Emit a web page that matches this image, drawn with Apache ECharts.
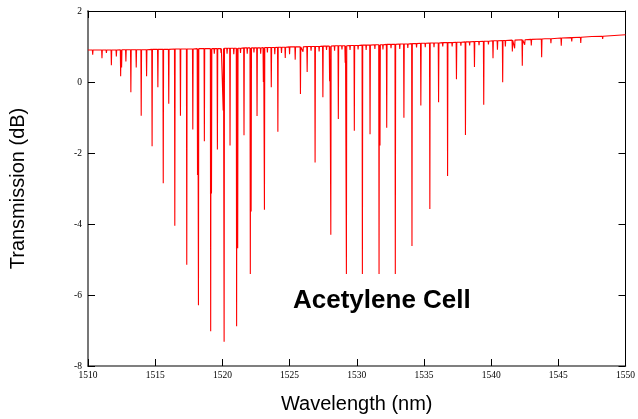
<!DOCTYPE html>
<html><head><meta charset="utf-8">
<script src="https://cdn.jsdelivr.net/npm/echarts/dist/echarts.min.js"></script>
<style>html,body{margin:0;padding:0;background:#fff}#c{width:638px;height:419px}</style>
</head><body><div id="c"></div>
<script>
// Absorption lines: wavelength (nm), minimum transmission (dB), local baseline (dB)
const lineWl = [1510.35,1510.70,1511.04,1511.37,1511.74,1512.11,1512.43,1512.50,1512.82,1513.19,1513.59,1513.96,1514.36,1514.77,1515.20,1515.60,1516.01,1516.46,1516.88,1517.35,1517.80,1518.15,1518.22,1518.66,1519.13,1519.19,1519.63,1520.06,1520.13,1520.57,1521.06,1521.14,1521.61,1522.08,1522.14,1522.58,1523.05,1523.13,1523.64,1524.13,1524.68,1525.00,1525.42,1525.81,1526.31,1526.90,1527.48,1527.98,1528.07,1528.63,1529.14,1529.23,1529.82,1530.42,1530.99,1531.66,1531.73,1532.23,1532.87,1533.51,1534.11,1534.77,1535.44,1536.09,1536.76,1537.42,1538.09,1538.76,1539.45,1540.14,1540.47,1540.86,1541.06,1541.58,1541.75,1542.32,1542.50,1542.99,1543.76,1544.45,1545.22,1546.00,1546.67,1548.30];
const lineMin = [0.77,0.86,0.67,0.82,0.47,0.72,0.16,0.41,0.58,-0.29,0.41,-0.95,0.16,-1.81,-0.15,-2.85,-0.61,-4.05,-0.95,-5.15,-1.34,-2.62,-6.29,-1.67,-7.02,-3.14,-1.90,-0.80,-7.32,-1.79,-6.88,-4.68,-1.50,-5.41,-3.65,-0.96,0.00,-3.60,-0.15,-1.40,0.68,0.78,0.63,-0.34,0.28,-2.27,-0.43,0.02,-4.30,-1.04,0.54,-5.41,-1.37,-5.41,-1.47,-5.41,-1.79,-1.29,-5.41,-1.01,-4.62,-0.66,-3.58,-0.57,-2.65,0.08,-1.49,0.42,-0.64,0.67,0.91,-0.01,1.00,0.86,0.95,0.46,1.05,1.03,0.70,1.09,1.02,1.14,1.10,1.21];
const lineTop = [0.90,0.90,0.90,0.90,0.90,0.90,0.91,0.91,0.91,0.91,0.91,0.91,0.91,0.92,0.92,0.92,0.92,0.93,0.93,0.93,0.93,0.94,0.94,0.94,0.94,0.94,0.94,0.95,0.95,0.95,0.95,0.95,0.96,0.96,0.96,0.96,0.97,0.97,0.97,0.98,0.98,0.99,0.99,0.99,1.00,1.00,1.01,1.01,1.01,1.02,1.02,1.02,1.03,1.04,1.04,1.05,1.05,1.06,1.06,1.07,1.08,1.09,1.10,1.10,1.11,1.12,1.13,1.14,1.15,1.16,1.16,1.17,1.17,1.18,1.18,1.19,1.19,1.20,1.21,1.22,1.24,1.25,1.26,1.29];
// Weak (hot-band) lines riding on the baseline
const weakWl  = [1519.40,1519.90,1520.35,1520.85,1521.35,1521.85,1522.35,1522.85,1523.35,1523.90,1524.40,1526.00,1526.60,1527.20,1527.75,1528.35,1528.90,1529.50,1530.10,1530.70,1531.35,1531.95,1532.55,1533.20,1533.80,1534.45,1535.10,1535.75,1536.40,1537.10,1537.75,1538.40,1539.10,1539.80];
const weakMin = [0.80,0.82,0.80,0.78,0.82,0.80,0.83,0.80,0.83,0.78,0.82,0.85,0.88,0.86,0.90,0.88,0.92,0.90,0.92,0.90,0.93,0.92,0.95,0.93,0.96,0.97,0.98,0.98,1.00,1.00,1.02,1.03,1.04,1.06];
const weakTop = [0.94,0.94,0.95,0.95,0.95,0.96,0.96,0.96,0.97,0.97,0.98,0.99,1.00,1.00,1.01,1.02,1.02,1.03,1.03,1.04,1.05,1.05,1.06,1.07,1.07,1.08,1.09,1.10,1.11,1.11,1.12,1.13,1.14,1.15];
// Baseline reference points (nm, dB)
const baseWl = [1510, 1544, 1547.5, 1550];
const baseVal = [0.90, 1.22, 1.28, 1.33];
// Axis ranges / ticks
const xMin = 1510, xMax = 1550, xStep = 5;
const yMin = -8, yMax = 2, yStep = 2;

const pts = [];
baseWl.forEach((w, i) => pts.push([w, baseVal[i]]));
const hw = 0.025;
function addDips(wl, mn, tp) {
  wl.forEach((w, i) => {
    pts.push([w - hw, tp[i]]);
    pts.push([w, mn[i]]);
    pts.push([w + hw, tp[i]]);
  });
}
addDips(lineWl, lineMin, lineTop);
addDips(weakWl, weakMin, weakTop);
pts.sort((a, b) => a[0] - b[0]);

const serif = '"Liberation Serif", "Times New Roman", serif';
const sans = '"Liberation Sans", Arial, sans-serif';
const chart = echarts.init(document.getElementById('c'), null, {renderer: 'canvas'});
chart.setOption({
  animation: false,
  backgroundColor: '#fff',
  grid: {left: 87, right: 12, top: 11, bottom: 52},
  xAxis: [{
    type: 'value', min: xMin, max: xMax, interval: xStep, position: 'bottom',
    axisLine: {show: true, onZero: false, lineStyle: {color: '#555', width: 1.5}},
    axisTick: {show: true, inside: true, length: 7, lineStyle: {color: '#000'}},
    axisLabel: {color: '#000', fontFamily: serif, fontSize: 9.5, margin: 4, formatter: v => String(v)},
    splitLine: {show: false},
    name: 'Wavelength (nm)', nameLocation: 'middle', nameGap: 28,
    nameTextStyle: {color: '#000', fontFamily: sans, fontSize: 20}
  }, {
    type: 'value', min: xMin, max: xMax, interval: xStep, position: 'top',
    axisLine: {show: true, onZero: false, lineStyle: {color: '#000', width: 1}},
    axisTick: {show: true, inside: true, length: 7, lineStyle: {color: '#000'}},
    axisLabel: {show: false}, splitLine: {show: false}
  }],
  yAxis: [{
    type: 'value', min: yMin, max: yMax, interval: yStep, position: 'left',
    axisLine: {show: true, onZero: false, lineStyle: {color: '#777', width: 2}},
    axisTick: {show: true, inside: true, length: 7, lineStyle: {color: '#000'}},
    axisLabel: {color: '#000', fontFamily: serif, fontSize: 9.5, margin: 6, formatter: v => String(v)},
    splitLine: {show: false},
    name: 'Transmission (dB)', nameLocation: 'middle', nameGap: 60,
    nameTextStyle: {color: '#000', fontFamily: sans, fontSize: 20}
  }, {
    type: 'value', min: yMin, max: yMax, interval: yStep, position: 'right',
    axisLine: {show: true, onZero: false, lineStyle: {color: '#000', width: 1}},
    axisTick: {show: true, inside: true, length: 7, lineStyle: {color: '#000'}},
    axisLabel: {show: false}, splitLine: {show: false}
  }],
  series: [{
    type: 'line', data: pts, showSymbol: false, symbol: 'none',
    sampling: null, smooth: false,
    lineStyle: {color: '#ff0000', width: 1.1}, z: 3
  }],
  graphic: [{
    type: 'text', left: 293, top: 288, z: 10,
    style: {text: 'Acetylene Cell', fill: '#000', fontFamily: sans, fontWeight: 'bold', fontSize: 26}
  }]
});
</script></body></html>
